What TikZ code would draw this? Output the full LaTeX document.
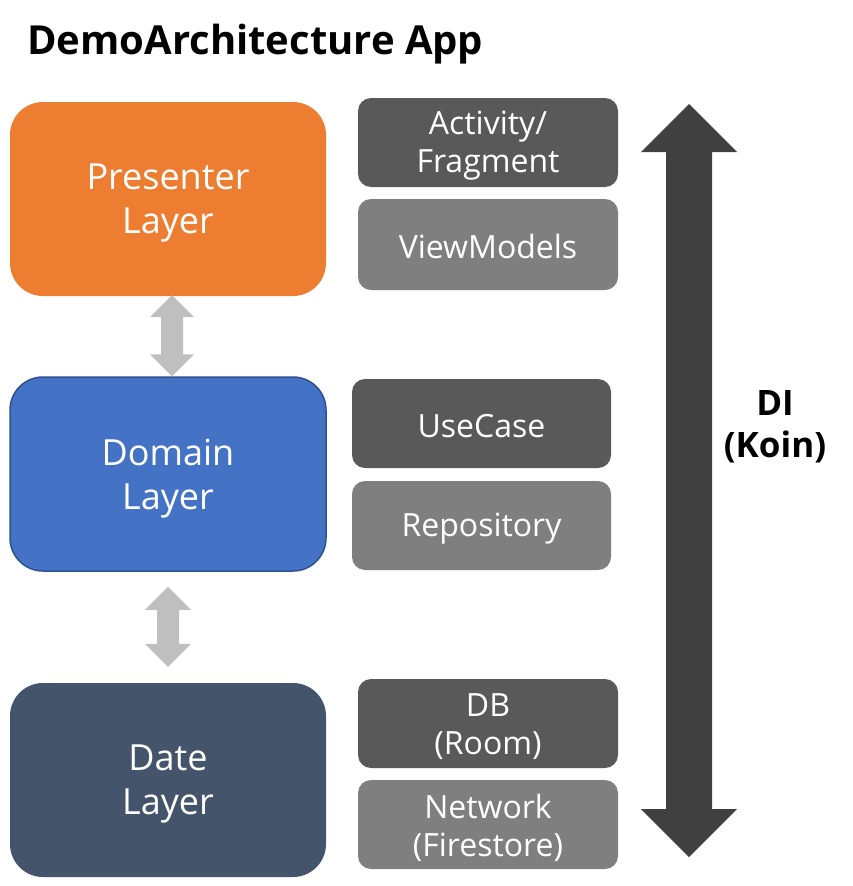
\documentclass[tikz,border=0pt]{standalone}
\usepackage{fontspec}
\setmainfont{Open Sans}
\usetikzlibrary{calc}
\definecolor{presC}{HTML}{ED7D31}
\definecolor{domC}{HTML}{4472C4}
\definecolor{domB}{HTML}{2F528F}
\definecolor{datC}{HTML}{44546A}
\definecolor{dkgray}{HTML}{595959}
\definecolor{mdgray}{HTML}{7F7F7F}
\definecolor{ltarrow}{HTML}{BFBFBF}
\definecolor{bigarrow}{HTML}{404040}
\newcommand{\fatdarrow}[5]{%
  \fill[#1] let \p1=(#2), \p2=(#3) in
    (\x1,\y1) -- (\x1+#4,\y1-#4) -- (\x1+#5,\y1-#4) -- (\x1+#5,\y2+#4) --
    (\x1+#4,\y2+#4) -- (\x1,\y2) -- (\x1-#4,\y2+#4) -- (\x1-#5,\y2+#4) --
    (\x1-#5,\y1-#4) -- (\x1-#4,\y1-#4) -- cycle;}
\tikzset{
  layerbox/.style={rounded corners=33pt, minimum width=316pt, minimum height=194pt,
    inner sep=0pt},
  compbox/.style={rounded corners=13pt, minimum width=260pt, minimum height=89pt,
    inner sep=0pt},
  layertext/.style={inner sep=0pt, text=white, align=center, font=\fontsize{36}{44}\selectfont},
  comptext/.style={inner sep=0pt, text=white, align=center, font=\fontsize{32}{38}\selectfont},
}
\begin{document}
\begin{tikzpicture}[x=1pt,y=-1pt]
\useasboundingbox (0,0) rectangle (852,886);
\node[anchor=base west, inner sep=0pt, font=\fontsize{40}{46}\selectfont\bfseries] (title) at (27,54) {DemoArchitecture App};
% layers
\node[layerbox, fill=presC] (pres) at (168,199) {};
\node[layerbox, fill=domC, draw=domB, line width=1.5pt] (dom) at (168,474) {};
\node[layerbox, fill=datC] (dat) at (168,780) {};
\node[layertext] (presT) at ([yshift=-4pt]pres.center) {Presenter\\Layer};
\node[layertext] (domT) at ([yshift=-5pt]dom.center) {Domain\\Layer};
\node[layertext] (datT) at ([yshift=-4pt]dat.center) {Date\\Layer};
% components
\node[compbox, fill=dkgray] (act) at (488,142.5) {};
\node[compbox, fill=mdgray, minimum height=91pt] (vm) at (488,244.5) {};
\node[compbox, fill=dkgray, minimum width=259pt] (uc) at (481.5,423.5) {};
\node[compbox, fill=mdgray, minimum width=259pt] (repo) at (481.5,525.5) {};
\node[compbox, fill=dkgray] (db) at (488,723.5) {};
\node[compbox, fill=mdgray] (net) at (488,824.5) {};
\node[comptext] (actT) at ([yshift=-3pt]act.center) {Activity/\\Fragment};
\node[comptext] (vmT) at ([yshift=-2pt]vm.center) {ViewModels};
\node[comptext] (ucT) at ([yshift=-3pt]uc.center) {UseCase};
\node[comptext] (repoT) at ([yshift=-3pt]repo.center) {Repository};
\node[comptext] (dbT) at ([yshift=-3pt]db.center) {DB\\(Room)};
\node[comptext] (netT) at ([yshift=-3pt]net.center) {Network\\(Firestore)};
% arrows between layers
\fatdarrow{ltarrow}{[xshift=4pt,yshift=1pt]pres.south}{[xshift=4pt]dom.north}{22pt}{11pt}
\fatdarrow{ltarrow}{[yshift=-15pt]dom.south}{[yshift=16pt]dat.north}{23pt}{11pt}
% DI arrow
\coordinate (ditop) at (689,104);
\coordinate (dibot) at (689,857);
\fatdarrow{bigarrow}{ditop}{dibot}{48pt}{23pt}
\node[align=center, inner sep=0pt, font=\fontsize{35}{42}\selectfont\bfseries] (di) at (775,427) {DI\\(Koin)};
\end{tikzpicture}
\end{document}
